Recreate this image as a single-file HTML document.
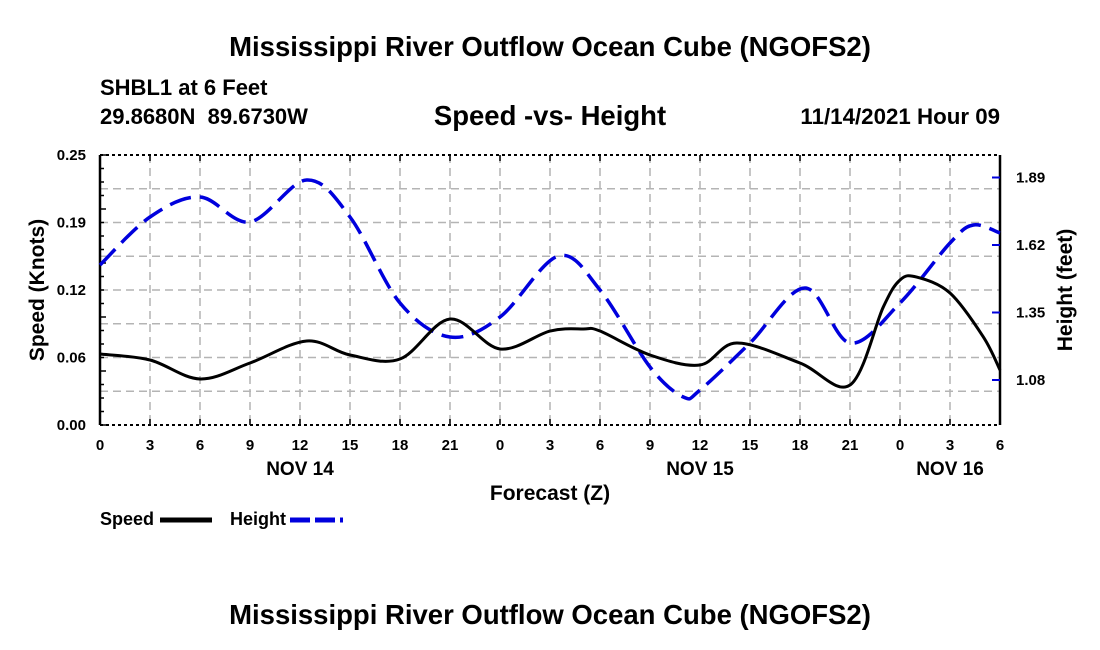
<!DOCTYPE html>
<html><head><meta charset="utf-8">
<style>
html,body{margin:0;padding:0;background:#fff;}
svg{display:block;font-family:"Liberation Sans",sans-serif;font-weight:bold;}
</style></head>
<body>
<svg id="chart" width="1100" height="650" viewBox="0 0 1100 650">
<text x="550" y="56" font-size="27.5" text-anchor="middle">Mississippi River Outflow Ocean Cube (NGOFS2)</text>
<text x="100" y="95" font-size="22">SHBL1 at 6 Feet</text>
<text x="100" y="124" font-size="22">29.8680N&#160;&#160;89.6730W</text>
<text x="550" y="125" font-size="27.5" text-anchor="middle">Speed -vs- Height</text>
<text x="1000" y="124" font-size="22.3" text-anchor="end">11/14/2021 Hour 09</text>
<g id="grid"></g>
<g id="axes"></g>
<g id="series"></g>
<text x="550" y="500" font-size="21" text-anchor="middle">Forecast (Z)</text>
<text transform="translate(44,290) rotate(-90)" font-size="21" text-anchor="middle">Speed (Knots)</text>
<text transform="translate(1072,290) rotate(-90)" font-size="21" text-anchor="middle">Height (feet)</text>
<g>
<g>
<text x="100" y="525" font-size="18">Speed</text>
<line x1="160" y1="520" x2="212" y2="520" stroke="#000" stroke-width="5"/>
</g>
<g>
<text x="230" y="525" font-size="18">Height</text>
<line x1="290" y1="520" x2="343" y2="520" stroke="#0000dd" stroke-width="5" stroke-dasharray="20,5"/>
</g>
</g>
<text x="550" y="624" font-size="27.5" text-anchor="middle">Mississippi River Outflow Ocean Cube (NGOFS2)</text>
</svg>
<script>
const speedHours=[0,3,6,9,12.4,15,18,21,24,27,29,30,33,36,38.2,42,45,47,48,49,51,53,54];
const speedValues=[0.0657,0.0602,0.0426,0.0574,0.0778,0.0648,0.0611,0.0981,0.0704,0.087,0.0889,0.087,0.0648,0.0556,0.0759,0.0574,0.037,0.1093,0.1343,0.137,0.1222,0.0815,0.0509];
const heightHours=[0,3,6,9,12.4,15,18,21,24,27.5,30,33,35,36,39,42.3,45,48,51,52.4,54];
const heightValues=[1.54,1.732,1.812,1.712,1.88,1.732,1.388,1.252,1.332,1.576,1.44,1.132,1.012,1.04,1.228,1.448,1.228,1.388,1.628,1.70,1.668];
const xTickLabels=["0","3","6","9","12","15","18","21","0","3","6","9","12","15","18","21","0","3","6"];
const dayLabels=["NOV 14","NOV 15","NOV 16"];
const dayHours=[12,36,51];
const leftTicks=["0.00","0.06","0.12","0.19","0.25"];
const rightTicks=["1.08","1.35","1.62","1.89"];

const NS="http://www.w3.org/2000/svg";
const L=100,R=1000,T=155,B=425;
const xs=h=>L+h*(R-L)/54;
const ys=v=>B-v*(B-T)/0.25;
const yh=v=>B-(v-0.9)*(B-T)/1.08;
function mk(tag,attrs,parent){const e=document.createElementNS(NS,tag);for(const k in attrs)e.setAttribute(k,attrs[k]);parent.appendChild(e);return e;}
const grid=document.getElementById('grid'),axes=document.getElementById('axes'),ser=document.getElementById('series');
for(let i=1;i<18;i++){const x=xs(i*3);
const g=mk('line',{x1:x,y1:T,x2:x,y2:B,stroke:'#b4b4b4','stroke-width':1.5,'stroke-dasharray':'8,5'},grid);

}
for(let i=1;i<8;i++){const y=T+i*(B-T)/8;
const g=mk('line',{x1:L,y1:y,x2:R,y2:y,stroke:'#b4b4b4','stroke-width':1.5,'stroke-dasharray':'8,5'},grid);

}
mk('line',{x1:L,y1:T,x2:R,y2:T,stroke:'#000','stroke-width':2,'stroke-dasharray':'3,3'},axes);
mk('line',{x1:L,y1:B,x2:R,y2:B,stroke:'#000','stroke-width':2,'stroke-dasharray':'3,3'},axes);
mk('line',{x1:L,y1:T,x2:L,y2:B,stroke:'#000','stroke-width':2.5},axes);
mk('line',{x1:R,y1:T,x2:R,y2:B,stroke:'#000','stroke-width':2.5},axes);
for(let i=0;i<=20;i++){const y=B-i*(B-T)/20;mk('line',{x1:L,y1:y,x2:L+(i%4==0?6:4),y2:y,stroke:'#000','stroke-width':1.5},axes);}
leftTicks.forEach((t,i)=>{const y=B-i*(B-T)/4;const e=mk('text',{x:86,y:y+5,'font-size':15,'text-anchor':'end'},axes);e.textContent=t;

});
rightTicks.forEach(t=>{const y=yh(parseFloat(t));mk('line',{x1:R-8,y1:y,x2:R,y2:y,stroke:'#0000dd','stroke-width':2},axes);
const e=mk('text',{x:1016,y:y+5,'font-size':15},axes);e.textContent=t;

});
xTickLabels.forEach((t,i)=>{const x=xs(i*3);mk('line',{x1:x,y1:B,x2:x,y2:B-6,stroke:'#000','stroke-width':1.5},axes);mk('line',{x1:x,y1:T,x2:x,y2:T+6,stroke:'#000','stroke-width':1.5},axes);
const e=mk('text',{x:x,y:450,'font-size':15,'text-anchor':'middle'},axes);e.textContent=t;

});
dayLabels.forEach((t,i)=>{const e=mk('text',{x:xs(dayHours[i]),y:475,'font-size':19,'text-anchor':'middle'},axes);e.textContent=t;

});
function smooth(pts){let d='M'+pts[0][0]+','+pts[0][1];
for(let i=0;i<pts.length-1;i++){const p0=pts[Math.max(0,i-1)],p1=pts[i],p2=pts[i+1],p3=pts[Math.min(pts.length-1,i+2)];
const c1=[p1[0]+(p2[0]-p0[0])/6,p1[1]+(p2[1]-p0[1])/6],c2=[p2[0]-(p3[0]-p1[0])/6,p2[1]-(p3[1]-p1[1])/6];
d+=' C'+c1[0]+','+c1[1]+' '+c2[0]+','+c2[1]+' '+p2[0]+','+p2[1];}return d;}
const hp=mk('path',{d:smooth(heightHours.map((h,i)=>[xs(h),yh(heightValues[i])])),fill:'none',stroke:'#0000dd','stroke-width':3.5,'stroke-dasharray':'22,9'},ser);


const sp=mk('path',{d:smooth(speedHours.map((h,i)=>[xs(h),ys(speedValues[i])])),fill:'none',stroke:'#000','stroke-width':3},ser);


</script>
</body></html>
